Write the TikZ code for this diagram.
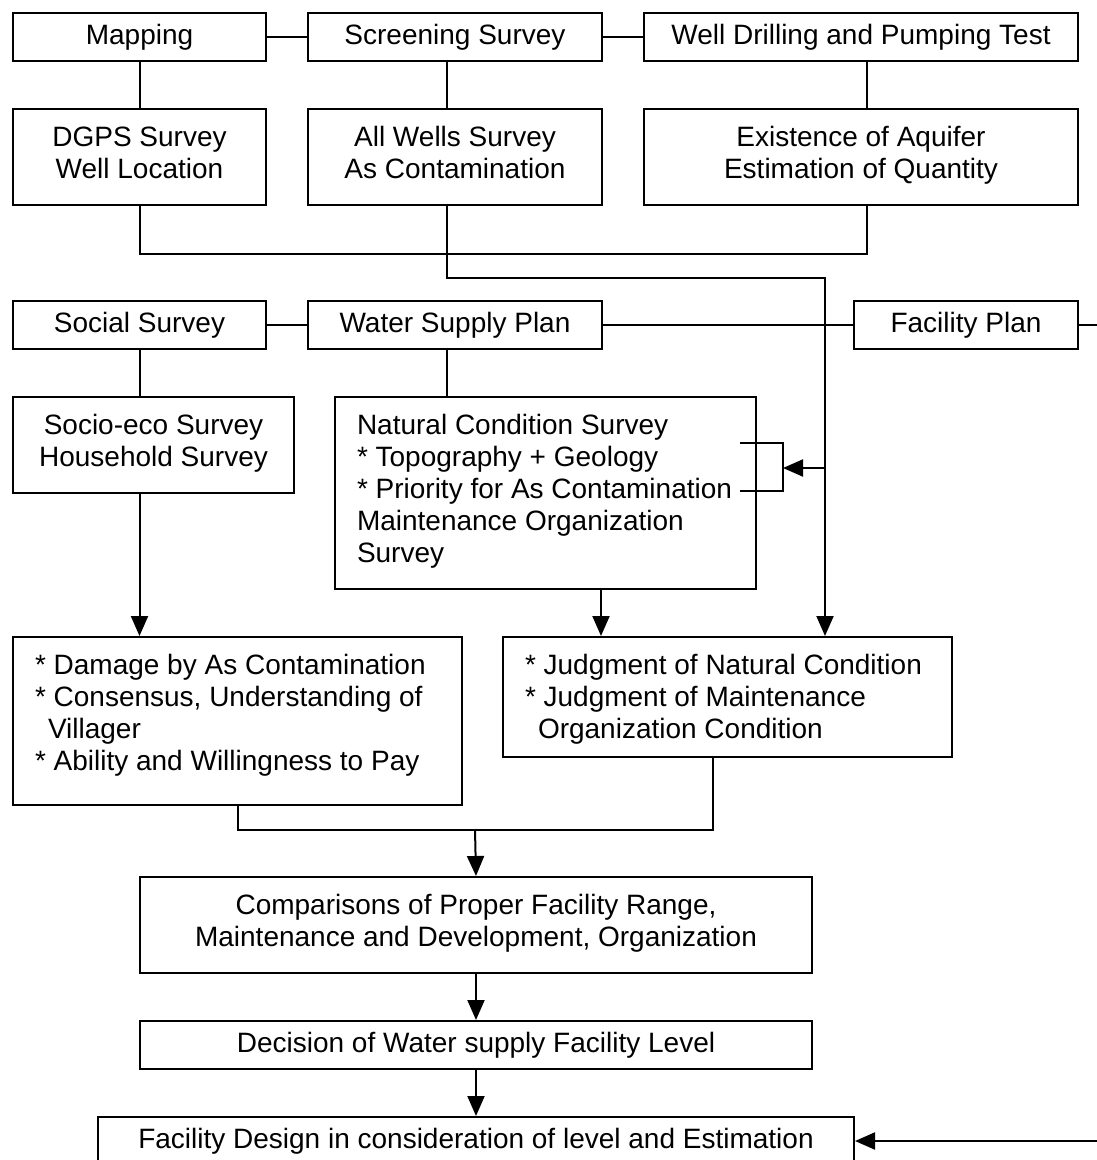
\documentclass[tikz,border=0pt]{standalone}
\usepackage{fontspec}
\setmainfont{Liberation Sans}
\usetikzlibrary{arrows.meta}

\begin{document}
\begin{tikzpicture}[x=1pt, y=-1pt, line width=2pt,
		every node/.style={font=\fontsize{28pt}{32pt}\selectfont},
		box/.style={draw, anchor=north west, inner sep=0pt, minimum height=48pt, text height=20pt, text depth=5pt},
		tallbox/.style={draw, anchor=north west, inner xsep=22pt, inner ysep=17pt, text height=20pt},
		arr/.style={-{Triangle[length=20pt, width=17pt]}}]
		\useasboundingbox (0,0) rectangle (1097,1160);

		% Columns used by the connectors
		\coordinate (midcol) at (447,0);
		\coordinate (drillcol) at (867,0);
		\coordinate (rightcol) at (825,0);
		\coordinate (natcol) at (601,0);
		\coordinate (judgecol) at (713,0);
		\coordinate (rim) at (1097,0);

		% Surveys
		\node[box, minimum width=253pt] (map) at (12,12) {Mapping};
		\node[box, minimum width=294pt] (screen) at (307,12) {Screening Survey};
		\node[box, minimum width=434pt] (drill) at (643,12) {Well Drilling and Pumping Test};

		\node[tallbox, align=flush center, text width=209pt, text depth=42pt] (dgps) at (12,108) {DGPS Survey\\Well Location};
		\node[tallbox, align=flush center, text width=250pt, text depth=42pt] (wells) at (307,108) {All Wells Survey\\As Contamination};
		\node[tallbox, align=flush center, text width=390pt, text depth=42pt] (aquifer) at (643,108) {Existence of Aquifer\\Estimation of Quantity};

		% Plans
		\node[box, minimum width=253pt] (social) at (12,300) {Social Survey};
		\node[box, minimum width=294pt] (plan) at (307,300) {Water Supply Plan};
		\node[box, minimum width=224pt] (facplan) at (853,300) {Facility Plan};

		\node[tallbox, align=flush center, text width=237pt, text depth=42pt] (socio) at (12,396) {Socio-eco Survey\\Household Survey};
		\node[tallbox, align=flush left, text width=377pt, text depth=138pt] (natural) at (334,396) {Natural Condition Survey\\\mbox{* Topography + Geology}\\\mbox{* Priority for As Contamination}\\Maintenance Organization\\Survey};

		% Judgments
		\node[tallbox, align=flush left, text width=405pt, text depth=114pt] (damage) at (12,636) {\mbox{* Damage by As Contamination}\\\mbox{* Consensus, Understanding of}\\\hspace*{13pt}Villager\\\mbox{* Ability and Willingness to Pay}};
		\node[tallbox, align=flush left, text width=405pt, text depth=66pt] (judge) at (502,636) {\mbox{* Judgment of Natural Condition}\\\mbox{* Judgment of Maintenance}\\\hspace*{13pt}Organization Condition};

		% Decision and design
		\node[tallbox, align=flush center, text width=628pt, text depth=42pt] (compare) at (139,876) {Comparisons of Proper Facility Range,\\Maintenance and Development, Organization};
		\node[box, minimum width=672pt] (decide) at (139,1020) {Decision of Water supply Facility Level};
		\node[box, minimum width=756pt] (design) at (97,1116) {Facility Design in consideration of level and Estimation};

		% Top connectors
		\draw (map) -- (screen);
		\draw (screen) -- (drill);
		\draw (map) -- (dgps);
		\draw (screen.south -| midcol) -- (wells.north -| midcol);
		\draw (drill.south -| drillcol) -- (aquifer.north -| drillcol);
		\draw (dgps.south) -- ++(0,48) -| (aquifer.south -| drillcol);
		\draw[arr] (wells.south -| midcol) -- ++(0,72) -| (judge.north -| rightcol);

		% Middle connectors
		\draw (social) -- (plan);
		\draw (plan) -- (facplan);
		\draw (facplan.east) -- (facplan.east -| rim);
		\draw (social.south) -- (social.south |- socio.north);
		\draw (plan.south -| midcol) -- (natural.north -| midcol);

		% Bracket on the natural condition items
		\coordinate (brtop) at (740,443);
		\coordinate (brbot) at (740,491);
		\coordinate (brtip) at (783,468);
		\draw (brtop) -| (brtip) |- (brbot);
		\draw[arr] (brtip -| rightcol) -- (brtip);

		% Lower connectors
		\draw[arr] (socio.south -| social.south) -- (damage.north -| social.south);
		\draw[arr] (natural.south -| natcol) -- (judge.north -| natcol);
		\coordinate (meet) at (475,829);
		\draw (damage.south) -- ++(0,24) -| (judge.south -| judgecol);
		\draw[arr] (meet) -- (compare.north);
		\draw[arr] (compare) -- (decide);
		\draw[arr] (decide) -- (design);
		\draw[arr] (design.east -| rim) -- (design.east);
	\end{tikzpicture}
\end{document}
